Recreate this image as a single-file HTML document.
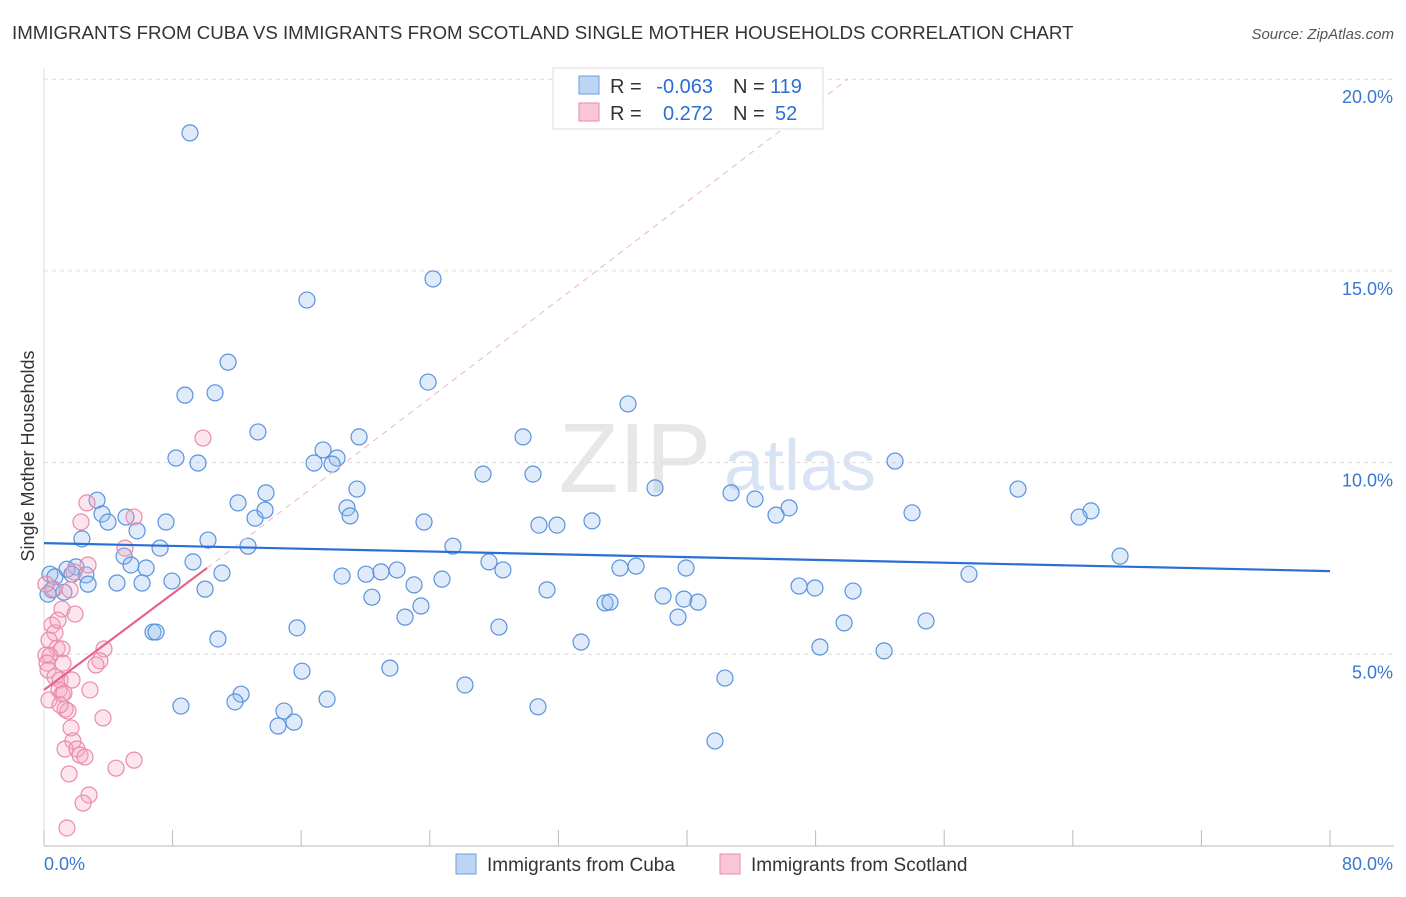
<!DOCTYPE html>
<html><head><meta charset="utf-8"><style>
body{margin:0;background:#fff;font-family:"Liberation Sans",sans-serif;}
svg text{font-family:"Liberation Sans",sans-serif;}
</style></head><body>
<svg id="chart" width="1406" height="892" xmlns="http://www.w3.org/2000/svg">
<text x="12" y="39" font-size="18.7" fill="#333">IMMIGRANTS FROM CUBA VS IMMIGRANTS FROM SCOTLAND SINGLE MOTHER HOUSEHOLDS CORRELATION CHART</text>
<text x="1394" y="39" font-size="15" fill="#555" text-anchor="end" font-style="italic">Source: ZipAtlas.com</text>
<text transform="translate(34,456) rotate(-90)" font-size="18" fill="#333" text-anchor="middle">Single Mother Households</text>
<g>
<text x="635" y="492" font-size="98" fill="#ddd" text-anchor="middle" font-family="Liberation Serif" opacity="0.7">ZIP</text>
<text x="800" y="490" font-size="72" fill="#c8daf0" text-anchor="middle" opacity="0.7">atlas</text>
</g>
<g id="grid"></g><g id="axes"></g><g id="marks"></g><g id="lines"></g>
<g>
<rect x="553" y="68" width="270" height="61" fill="#fff" stroke="#ddd"/>
<rect x="579" y="76" width="20" height="18" fill="#bcd5f5" stroke="#6b9ee0"/>
<rect x="579" y="103" width="20" height="18" fill="#f9c6d6" stroke="#e98aa9"/>
<text x="610" y="93" font-size="20" fill="#333">R =</text>
<text x="713" y="93" font-size="20" fill="#2a6fd4" text-anchor="end">-0.063</text>
<text x="733" y="93" font-size="20" fill="#333">N =</text>
<text x="770" y="93" font-size="20" fill="#2a6fd4">119</text>
<text x="610" y="120" font-size="20" fill="#333">R =</text>
<text x="713" y="120" font-size="20" fill="#2a6fd4" text-anchor="end">0.272</text>
<text x="733" y="120" font-size="20" fill="#333">N =</text>
<text x="775" y="120" font-size="20" fill="#2a6fd4">52</text>
</g>
<g>
<rect x="456" y="854" width="20" height="20" fill="#bcd5f5" stroke="#6b9ee0"/>
<text x="487" y="871" font-size="19" fill="#333">Immigrants from Cuba</text>
<rect x="720" y="854" width="20" height="20" fill="#f9c6d6" stroke="#e98aa9"/>
<text x="751" y="871" font-size="19" fill="#333">Immigrants from Scotland</text>
</g>
</svg>
<script>
const yTicks=[5,10,15,20];
const yTickLabels=["5.0%","10.0%","15.0%","20.0%"];
const xTicks=[0,8,16,24,32,40,48,56,64,72,80];
const cubaX=[9.08,24.2,16.36,11.45,23.89,8.77,10.64,36.33,13.31,29.8,19.6,17.36,18.23,8.21,9.58,16.8,17.92,52.94,27.31,30.42,3.3,38.01,60.59,19.47,42.74,44.23,13.81,12.07,18.85,46.35,3.61,45.54,54.0,65.13,64.39,3.98,5.1,19.04,13.13,13.75,23.64,7.59,34.09,30.79,31.91,5.79,2.36,10.2,7.22,12.69,25.44,66.94,4.98,9.27,27.68,1.99,1.43,0.37,0.68,2.61,6.35,5.41,1.74,2.74,4.54,6.1,7.96,11.07,18.54,20.03,20.96,21.96,28.55,35.83,36.83,39.94,24.76,23.02,57.54,0.5,1.24,10.02,31.29,20.4,23.45,34.9,35.21,38.51,39.81,40.68,46.97,47.96,50.33,22.46,39.44,49.77,54.87,6.78,6.97,10.82,15.74,28.3,33.41,48.27,52.26,16.05,21.52,42.36,26.19,12.26,11.88,8.52,17.61,30.73,14.93,15.55,14.56,41.74,0.25];
const cubaY=[18.6,14.79,14.24,12.62,12.1,11.76,11.82,11.53,10.8,10.67,10.67,10.33,10.12,10.12,9.99,9.99,9.96,10.04,9.7,9.7,9.02,9.34,9.31,9.31,9.21,9.05,9.21,8.95,8.82,8.82,8.66,8.63,8.69,8.74,8.58,8.45,8.58,8.61,8.55,8.76,8.45,8.45,8.48,8.37,8.37,8.22,8.01,7.98,7.77,7.82,7.82,7.56,7.56,7.41,7.41,7.28,7.22,7.09,7.02,7.07,7.25,7.33,7.09,6.83,6.86,6.86,6.91,7.12,7.04,7.09,7.15,7.2,7.2,7.25,7.3,7.25,6.96,6.81,7.09,6.68,6.62,6.7,6.68,6.49,6.26,6.34,6.36,6.52,6.44,6.36,6.78,6.73,6.65,5.97,5.97,5.82,5.87,5.58,5.58,5.4,5.69,5.71,5.32,5.19,5.09,4.56,4.64,4.38,4.2,3.96,3.76,3.65,3.83,3.63,3.52,3.23,3.13,2.74,6.57];
const scotX=[9.89,2.67,5.6,2.3,5.04,2.74,1.87,0.62,1.12,1.93,0.5,0.68,0.31,0.81,1.12,3.73,0.12,0.37,3.48,3.23,0.19,1.18,0.25,0.68,1.0,0.93,1.12,2.86,1.24,1.31,1.49,3.67,1.68,1.8,1.31,2.05,2.24,2.55,5.6,4.48,1.56,2.8,2.43,1.43,0.12,1.62,0.87,1.74,0.31,1.0];
const scotY=[10.64,8.95,8.58,8.45,7.77,7.33,7.15,6.7,6.18,6.05,5.76,5.56,5.37,5.16,5.14,5.14,4.98,4.96,4.83,4.72,4.77,4.77,4.59,4.41,4.33,4.07,3.96,4.07,3.99,3.57,3.52,3.34,3.08,2.74,2.53,2.53,2.37,2.32,2.24,2.03,1.88,1.33,1.12,0.47,6.83,6.68,5.89,4.33,3.81,3.68];
const cubaTrend=[[0,7.9],[80,7.17]];
const scotTrend=[[0,4.07],[10.14,7.25]];
const scotExt=[[10.14,7.25],[50,20]];
const NS="http://www.w3.org/2000/svg";
const sx=v=>44+v*(1286/80), sy=v=>846-v*38.34;
function mk(t,a,p){const e=document.createElementNS(NS,t);for(const k in a)e.setAttribute(k,a[k]);p.appendChild(e);return e;}
const grid=document.getElementById('grid'),axes=document.getElementById('axes'),marks=document.getElementById('marks'),lines=document.getElementById('lines');
yTicks.forEach((t,i)=>{
 const l=mk('line',{x1:44,x2:1394,y1:sy(t),y2:sy(t),stroke:'#ddd','stroke-dasharray':'4,4'},grid);
 
 
 const tx=mk('text',{x:1393,y:sy(t)+24,'font-size':18,fill:'#3a78d0','text-anchor':'end'},axes);
 tx.textContent=yTickLabels[i];
 
 
});
const xa=mk('line',{x1:44,x2:1394,y1:846,y2:846,stroke:'#bbb'},axes);


const ya=mk('line',{x1:44,x2:44,y1:68,y2:846,stroke:'#ddd'},axes);


xTicks.forEach(t=>{
 const l=mk('line',{x1:sx(t),x2:sx(t),y1:830,y2:846,stroke:'#bbb'},axes);
 
 
});
[["0.0%",44,'start'],["80.0%",1393,'end']].forEach(d=>{
 const tx=mk('text',{x:d[1],y:870,'font-size':18,fill:'#3a78d0','text-anchor':d[2]},axes);
 tx.textContent=d[0];
 
 
});
cubaX.forEach((x,i)=>{
 const c=mk('circle',{cx:sx(x),cy:sy(cubaY[i]),r:8,fill:'rgba(150,190,240,0.3)',stroke:'#5a92dc','stroke-width':1.2},marks);
 
 
});
scotX.forEach((x,i)=>{
 const c=mk('circle',{cx:sx(x),cy:sy(scotY[i]),r:8,fill:'rgba(245,170,195,0.3)',stroke:'#ea8bab','stroke-width':1.2},marks);
 
 
});
function ln(p,st,w,dash,name){const l=mk('line',{x1:sx(p[0][0]),y1:sy(p[0][1]),x2:sx(p[1][0]),y2:sy(p[1][1]),stroke:st,'stroke-width':w},lines);if(dash)l.setAttribute('stroke-dasharray',dash);}
ln(scotExt,'#ecb5c6',1,'6,5','scotland-trend-extension');
ln(cubaTrend,'#2a6fd4',2.2,null,'cuba-trend-line');
ln(scotTrend,'#e8638c',2.2,null,'scotland-trend-line');
</script>
</body></html>
